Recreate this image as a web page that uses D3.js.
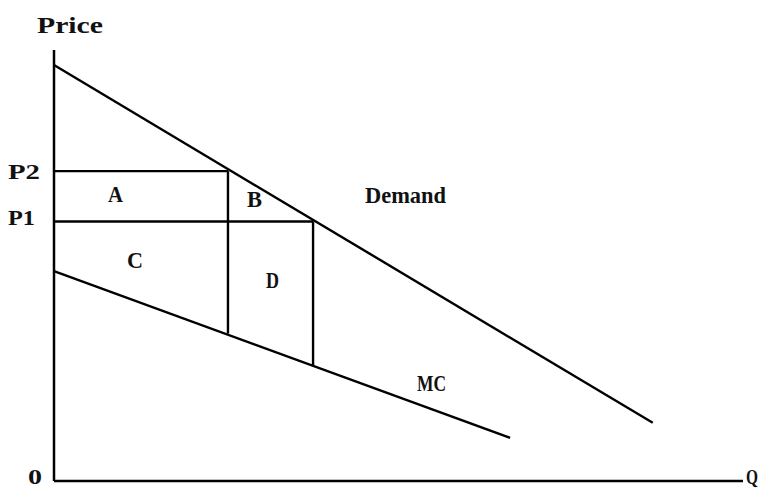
<!DOCTYPE html>
<html><head><meta charset="utf-8">
<script src="https://cdn.jsdelivr.net/npm/d3@7"></script>
<style>html,body{margin:0;padding:0;background:#fff;}svg{display:block;}</style>
</head><body>
<script>
// ---- data ----
const demand = [[0, 96.5], [86.9, 13.5]];   // [Q, Price]
const mc = [[0, 48.7], [66.2, 10.0]];
const priceLevels = ["P2", "P1"];
const priceValues = [71.9, 60.2];
const quantities = [25.25, 37.6];        // Q at P2, Q at P1
const mcAtQuantities = [34.2, 26.7];
const areaLabels = ["A", "B", "C", "D"];
const axisLabels = ["Price", "Q", "0"];
const curveLabels = ["Demand", "MC"];

const W = 762, H = 489;
const svg = d3.select("body").append("svg").attr("width", W).attr("height", H);
const x = d3.scaleLinear().domain([0, 100]).range([54, 743]);
const y = d3.scaleLinear().domain([0, 100]).range([481, 50]);

const FONT = "'Liberation Serif', 'DejaVu Serif', serif";
function label(t, left, right, base, size) {
  svg.append("text").text(t)
    .attr("x", left).attr("y", base)
    .attr("font-family", FONT).attr("font-weight", "bold")
    .attr("font-size", size || 24)
    .attr("textLength", right - left)
    .attr("lengthAdjust", "spacingAndGlyphs")
    .attr("fill", "#111");
}

// axes
svg.append("line").attr("x1", x(0)).attr("x2", x(0)).attr("y1", y(0)).attr("y2", y(100))
  .attr("stroke", "#000").attr("stroke-width", 2.5);
svg.append("line").attr("x1", x(0)).attr("x2", x(100)).attr("y1", y(0)).attr("y2", y(0))
  .attr("stroke", "#000").attr("stroke-width", 2.5);

const line = d3.line().x(d => x(d[0])).y(d => y(d[1]));
svg.append("path").datum(demand).attr("d", line).attr("fill", "none")
  .attr("stroke", "#000").attr("stroke-width", 2.4);
svg.append("path").datum(mc).attr("d", line).attr("fill", "none")
  .attr("stroke", "#000").attr("stroke-width", 2.4);

// horizontal price lines
priceValues.forEach((p, i) => {
  svg.append("line").attr("x1", x(0)).attr("x2", x(quantities[i]))
    .attr("y1", y(p)).attr("y2", y(p)).attr("stroke", "#000").attr("stroke-width", 2.4);
});
// vertical quantity lines
quantities.forEach((q, i) => {
  svg.append("line").attr("x1", x(q)).attr("x2", x(q))
    .attr("y1", y(priceValues[i])).attr("y2", y(mcAtQuantities[i]))
    .attr("stroke", "#000").attr("stroke-width", 2.4);
});

// text
label(axisLabels[0], 37, 103, 33, 24);
label(priceLevels[0], 8, 40, 179, 22);
label(priceLevels[1], 8, 35, 225, 22);
label(areaLabels[0], 108, 123, 202, 24);
label(areaLabels[1], 247, 262, 207, 24);
label(areaLabels[2], 127, 143, 268, 24);
label(areaLabels[3], 266, 279, 288, 24);
label(curveLabels[0], 365, 446, 203, 24);
label(curveLabels[1], 417, 446, 391, 24);
label(axisLabels[2], 28, 42, 484, 22);
label(axisLabels[1], 746, 758, 484, 22);
</script>
</body></html>
